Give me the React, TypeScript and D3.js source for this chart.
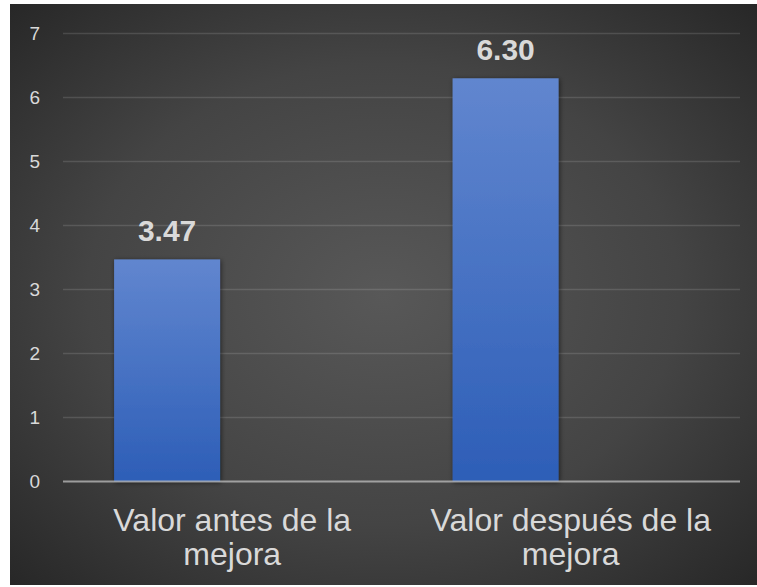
import React from "react";
import * as d3 from "d3";

// Chart data
const categories: string[][] = [
  ["Valor antes de la", "mejora"],
  ["Valor después de la", "mejora"],
];
const values: number[] = [3.47, 6.3];
const yTicks: number[] = [0, 1, 2, 3, 4, 5, 6, 7];

const W = 757;
const H = 587;

export default function App() {
  const left = 63;
  const right = 740;
  const top = 33.5;
  const bottom = 481.5;

  const keys = categories.map((c) => c.join(" "));
  const x = d3.scaleBand<string>().domain(keys).range([left, right]).padding(0);
  const y = d3.scaleLinear().domain([0, 7]).range([bottom, top]);
  const bw = x.bandwidth();
  const barOffset = bw * 0.151;
  const barWidth = bw * 0.313;

  const font = "'Liberation Sans', Arial, sans-serif";
  const textColor = "#d9d9d9";

  return (
    <svg
      width={W}
      height={H}
      style={{ position: "absolute", left: 0, top: 0, display: "block" }}
    >
      <defs>
        <radialGradient id="bg" cx="0.5" cy="0.5" r="0.72">
          <stop offset="0" stopColor="#585858" />
          <stop offset="0.55" stopColor="#444444" />
          <stop offset="1" stopColor="#262626" />
        </radialGradient>
        <linearGradient id="bar" x1="0" y1="0" x2="0" y2="1">
          <stop offset="0" stopColor="#6186cf" />
          <stop offset="1" stopColor="#2d5eb7" />
        </linearGradient>
        <filter id="shadow" x="-20%" y="-20%" width="140%" height="140%">
          <feDropShadow dx="1" dy="1" stdDeviation="2.5" floodColor="#000" floodOpacity="0.55" />
        </filter>
      </defs>
      <rect x={0} y={0} width={W} height={H} fill="#ffffff" />
      <rect x={10} y={4} width={W - 10} height={581} fill="url(#bg)" />

      {/* gridlines */}
      {yTicks
        .filter((t) => t > 0)
        .map((t) => (
          <line
            key={`g${t}`}
            x1={left}
            x2={right}
            y1={y(t)}
            y2={y(t)}
            stroke="#ffffff"
            strokeOpacity={0.13}
            strokeWidth={1.4}
          />
        ))}

      {/* y tick labels */}
      {yTicks.map((t) => (
        <text
          key={`t${t}`}
          x={40}
          y={y(t)}
          dy="0.36em"
          textAnchor="end"
          fontFamily={font}
          fontSize={19}
          fill={textColor}
        >
          {t}
        </text>
      ))}

      {/* bars */}
      {values.map((v, i) => {
        const bx = (x(keys[i]) as number) + barOffset;
        return (
          <rect
            key={`b${i}`}
            x={bx}
            y={y(v)}
            width={barWidth}
            height={y(0) - y(v)}
            fill="url(#bar)"
            filter="url(#shadow)"
          />
        );
      })}

      {/* axis line */}
      <line
        x1={left}
        x2={right}
        y1={bottom}
        y2={bottom}
        stroke="#bfbfbf"
        strokeOpacity={0.75}
        strokeWidth={2.2}
      />

      {/* value labels */}
      {values.map((v, i) => {
        const cx = (x(keys[i]) as number) + barOffset + barWidth / 2;
        return (
          <text
            key={`v${i}`}
            x={cx}
            y={y(v) - 18.7}
            textAnchor="middle"
            fontFamily={font}
            fontWeight="bold"
            fontSize={30}
            fill={textColor}
          >
            {v.toFixed(2)}
          </text>
        );
      })}

      {/* category labels */}
      {categories.map((lines, i) => {
        const cx = (x(keys[i]) as number) + bw / 2;
        return (
          <text
            key={`c${i}`}
            textAnchor="middle"
            fontFamily={font}
            fontSize={32}
            fill={textColor}
          >
            {lines.map((ln, j) => (
              <tspan key={j} x={cx} y={530.7 + j * 34.5}>
                {ln}
              </tspan>
            ))}
          </text>
        );
      })}
    </svg>
  );
}
